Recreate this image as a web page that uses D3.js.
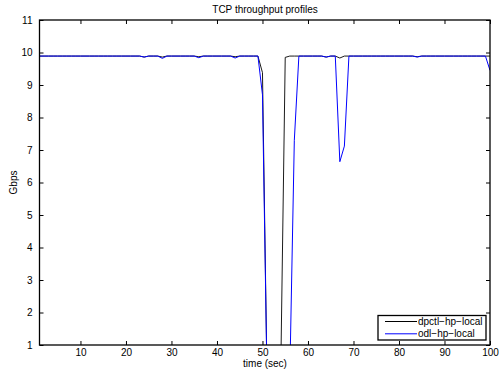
<!DOCTYPE html>
<html>
<head>
<meta charset="utf-8">
<script src="https://cdn.jsdelivr.net/npm/d3@7"></script>
<style>
  body { margin: 0; background: #fff; }
  svg { display: block; font-family: "Liberation Sans", Arial, sans-serif; }
</style>
</head>
<body>
<div class="chart"></div>
<script>
// time samples, seconds 1..100
const times = d3.range(1, 101)

// dpctl-hp-local throughput (Gbps)
const dpctl = [
  9.89, 9.89, 9.89, 9.89, 9.89, 9.89, 9.89, 9.89, 9.89, 9.89,
  9.89, 9.89, 9.89, 9.89, 9.89, 9.89, 9.89, 9.89, 9.89, 9.89,
  9.89, 9.89, 9.89, 9.86, 9.89, 9.89, 9.89, 9.86, 9.89, 9.89,
  9.89, 9.89, 9.89, 9.89, 9.89, 9.87, 9.89, 9.89, 9.89, 9.89,
  9.89, 9.89, 9.89, 9.87, 9.89, 9.89, 9.89, 9.89, 9.89, 9.38,
  0, 0, 0, 0, 9.85, 9.89, 9.89, 9.89, 9.89, 9.89,
  9.89, 9.89, 9.89, 9.86, 9.89, 9.89, 9.83, 9.89, 9.89, 9.89,
  9.89, 9.89, 9.89, 9.89, 9.89, 9.89, 9.89, 9.89, 9.89, 9.89,
  9.89, 9.89, 9.89, 9.87, 9.89, 9.89, 9.89, 9.89, 9.89, 9.89,
  9.89, 9.89, 9.89, 9.89, 9.89, 9.89, 9.89, 9.89, 9.89, 9.89
]

// odl-hp-local throughput (Gbps)
const odl = [
  9.89, 9.89, 9.89, 9.89, 9.89, 9.89, 9.89, 9.89, 9.89, 9.89,
  9.89, 9.89, 9.89, 9.89, 9.89, 9.89, 9.89, 9.89, 9.89, 9.89,
  9.89, 9.89, 9.89, 9.86, 9.89, 9.89, 9.89, 9.82, 9.89, 9.89,
  9.89, 9.89, 9.89, 9.89, 9.89, 9.84, 9.89, 9.89, 9.89, 9.89,
  9.89, 9.89, 9.89, 9.83, 9.89, 9.89, 9.89, 9.89, 9.89, 8.70,
  0, 0, 0, 0, 0, 0, 7.30, 9.89, 9.89, 9.89,
  9.89, 9.89, 9.89, 9.86, 9.89, 9.89, 6.64, 7.12, 9.89, 9.89,
  9.89, 9.89, 9.89, 9.89, 9.89, 9.89, 9.89, 9.89, 9.89, 9.89,
  9.89, 9.89, 9.89, 9.86, 9.89, 9.89, 9.89, 9.89, 9.89, 9.89,
  9.89, 9.89, 9.89, 9.89, 9.89, 9.89, 9.89, 9.89, 9.89, 9.45
]

const seriesNames = ["dpctl\u2212hp\u2212local", "odl\u2212hp\u2212local"]
const seriesColors = ["#000000", "#0000ff"]

const xTicks = [10, 20, 30, 40, 50, 60, 70, 80, 90, 100]
const yTicks = [1, 2, 3, 4, 5, 6, 7, 8, 9, 10, 11]

let width = 499
let height = 373
let margin = {top: 20, right: 9, bottom: 28, left: 39.5}

let svg = d3.select(".chart")
.append("svg")
.attr("width", width)
.attr("height", height)

let x = d3.scaleLinear()
.domain([1, 100])
.range([margin.left, width - margin.right])

let y = d3.scaleLinear()
.domain([1, 11])
.range([height - margin.bottom, margin.top])

svg.append("clipPath")
.attr("id", "plot-clip")
.append("rect")
.attr("x", x(1))
.attr("y", y(11))
.attr("width", x(100) - x(1))
.attr("height", y(1) - y(11))

let line = d3.line()
.x((d, i) => x(times[i]))
.y(d => y(d))

let plot = svg.append("g").attr("clip-path", "url(#plot-clip)")

;[dpctl, odl].forEach((s, k) => {
  plot.append("path")
  .datum(s)
  .attr("d", line)
  .attr("fill", "none")
  .attr("stroke", seriesColors[k])
  .attr("stroke-width", k == 0 ? 0.9 : 1)
})

// axes, matlab style: ticks point inward, box around the plot
let fontSize = 10

svg.append("g")
.attr("transform", `translate(0,${y(1)})`)
.call(d3.axisBottom(x).tickValues(xTicks).tickSizeInner(-4).tickSizeOuter(0).tickPadding(4))
.call(g => g.select(".domain").remove())

svg.append("g")
.attr("transform", `translate(0,${y(11)})`)
.call(d3.axisTop(x).tickValues(xTicks).tickSizeInner(-4).tickSizeOuter(0).tickFormat(""))
.call(g => g.select(".domain").remove())

svg.append("g")
.attr("transform", `translate(${x(1)},0)`)
.call(d3.axisLeft(y).tickValues(yTicks).tickSizeInner(-4).tickSizeOuter(0).tickPadding(7))
.call(g => g.select(".domain").remove())

svg.append("g")
.attr("transform", `translate(${x(100)},0)`)
.call(d3.axisRight(y).tickValues(yTicks).tickSizeInner(-4).tickSizeOuter(0).tickFormat(""))
.call(g => g.select(".domain").remove())

svg.selectAll(".tick text")
.attr("font-size", fontSize)
.attr("font-family", "Liberation Sans, Arial, sans-serif")
.attr("fill", "#000")

svg.selectAll(".tick line")
.attr("stroke", "#000")

svg.append("rect")
.attr("x", x(1))
.attr("y", y(11))
.attr("width", x(100) - x(1))
.attr("height", y(1) - y(11))
.attr("fill", "none")
.attr("stroke", "#000")
.attr("stroke-width", 1.3)

// labels
svg.append("text")
.attr("x", 265)
.attr("y", 13)
.attr("text-anchor", "middle")
.attr("font-size", fontSize)
.text("TCP throughput profiles")

svg.append("text")
.attr("x", 265)
.attr("y", 366.5)
.attr("text-anchor", "middle")
.attr("font-size", fontSize)
.text("time (sec)")

svg.append("text")
.attr("transform", `translate(17,${(y(1) + y(11)) / 2}) rotate(-90)`)
.attr("text-anchor", "middle")
.attr("font-size", fontSize)
.text("Gbps")

// legend
let legend = svg.append("g")
.attr("transform", "translate(378,315.5)")

legend.append("rect")
.attr("width", 108)
.attr("height", 24.5)
.attr("fill", "#fff")
.attr("stroke", "#000")
.attr("stroke-width", 1.3)

seriesNames.forEach((name, k) => {
  let ly = 6 + k * 12.3
  legend.append("line")
  .attr("x1", 7).attr("x2", 39)
  .attr("y1", ly).attr("y2", ly)
  .attr("stroke", seriesColors[k])
  .attr("stroke-width", 1)
  legend.append("text")
  .attr("x", 40)
  .attr("y", ly + 3.5)
  .attr("font-size", fontSize)
  .text(name)
})
</script>
</body>
</html>
